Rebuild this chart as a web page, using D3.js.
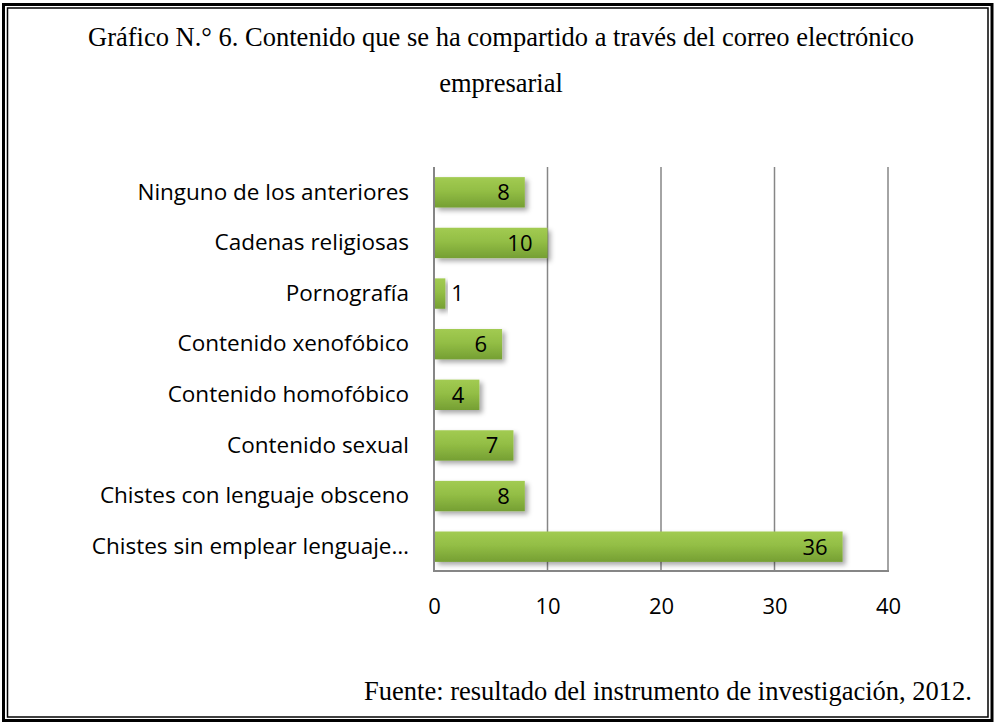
<!DOCTYPE html>
<html>
<head>
<meta charset="utf-8">
<script src="https://cdn.jsdelivr.net/npm/d3@7"></script>
<style>
  body { margin: 0; background: #fff; }
  svg { display: block; }
</style>
</head>
<body>
<div id="chart"></div>
<script>
// data, bottom bar last
var categories = ['Ninguno de los anteriores', 'Cadenas religiosas', 'Pornografía',
    'Contenido xenofóbico', 'Contenido homofóbico', 'Contenido sexual',
    'Chistes con lenguaje obsceno', 'Chistes sin emplear lenguaje…'];
var values = [8, 10, 1, 6, 4, 7, 8, 36];
var ticks = [0, 10, 20, 30, 40];
var titleLines = ['Gráfico N.° 6. Contenido que se ha compartido a través del correo electrónico', 'empresarial'];
var source = 'Fuente: resultado del instrumento de investigación, 2012.';

var W = 996, H = 724;
var svg = d3.select('#chart').append('svg')
    .attr('width', W).attr('height', H);

// double frame
svg.append('rect').attr('x', 3.5).attr('y', 4.5).attr('width', W - 7.5).attr('height', H - 8)
    .attr('fill', 'none').attr('stroke', '#000').attr('stroke-width', 3);
svg.append('rect').attr('x', 7.5).attr('y', 8).attr('width', W - 15.5).attr('height', H - 15)
    .attr('fill', 'none').attr('stroke', '#000').attr('stroke-width', 1.5);

var defs = svg.append('defs');
var grad = defs.append('linearGradient').attr('id', 'barGrad')
    .attr('x1', 0).attr('y1', 0).attr('x2', 0).attr('y2', 1);
grad.append('stop').attr('offset', '0%').attr('stop-color', '#a2cb52');
grad.append('stop').attr('offset', '45%').attr('stop-color', '#93be45');
grad.append('stop').attr('offset', '100%').attr('stop-color', '#759f33');
var shadow = defs.append('filter').attr('id', 'shadow')
    .attr('x', '-10%').attr('y', '-20%').attr('width', '130%').attr('height', '160%');
shadow.append('feDropShadow').attr('dx', 3).attr('dy', 3).attr('stdDeviation', 2.5)
    .attr('flood-color', '#000').attr('flood-opacity', 0.35);

var serif = '"Liberation Serif", "Times New Roman", serif';
var calibri = '"Open Sans", Lato, sans-serif';

// titles
svg.selectAll('.title').data(titleLines).enter().append('text')
    .attr('class', 'title')
    .attr('x', 501).attr('y', function(d, i) { return 46 + i * 46; })
    .attr('text-anchor', 'middle')
    .style('font-family', serif)
    .style('font-size', '26.5px')
    .text(function(d) { return d; });

svg.append('text')
    .attr('x', 972).attr('y', 700)
    .attr('text-anchor', 'end')
    .style('font-family', serif)
    .style('font-size', '26.5px')
    .text(source);

var x = d3.scaleLinear().domain([0, 40]).range([434, 888]);
var y = d3.scaleBand().domain(categories).range([167, 572]).paddingInner(0.4).paddingOuter(0.2);

var plot = svg.append('g');

// gridlines
plot.selectAll('.grid').data(ticks.slice(1)).enter().append('line')
    .attr('x1', function(d) { return x(d); }).attr('x2', function(d) { return x(d); })
    .attr('y1', 167).attr('y2', 572)
    .attr('stroke', '#868686').attr('stroke-width', 1.5);

// axis box (left + bottom)
plot.append('line').attr('x1', x(0)).attr('x2', x(0)).attr('y1', 167).attr('y2', 572)
    .attr('stroke', '#868686').attr('stroke-width', 2);
plot.append('line').attr('x1', x(0) - 1).attr('x2', x(40) + 1).attr('y1', 571).attr('y2', 571)
    .attr('stroke', '#868686').attr('stroke-width', 2);

// bars
plot.selectAll('.bar').data(values).enter().append('rect')
    .attr('class', 'bar')
    .attr('x', x(0) + 1)
    .attr('y', function(d, i) { return y(categories[i]); })
    .attr('width', function(d) { return x(d) - x(0) - 1; })
    .attr('height', y.bandwidth())
    .attr('fill', 'url(#barGrad)')
    .attr('filter', 'url(#shadow)');

// value labels
plot.selectAll('.val').data(values).enter().append('text')
    .attr('class', 'val')
    .attr('x', function(d) { return d < 3 ? x(d) + 6 : x(d) - 15; })
    .attr('y', function(d, i) { return y(categories[i]) + y.bandwidth() / 2; })
    .attr('dy', '0.36em')
    .attr('text-anchor', function(d) { return d < 3 ? 'start' : 'end'; })
    .style('font-family', calibri)
    .style('font-size', '22px')
    .text(function(d) { return d; });

// category labels
var yAxis = d3.axisLeft(y).tickSize(0).tickPadding(25);
var ya = svg.append('g').attr('transform', 'translate(' + x(0) + ',0)').call(yAxis);
ya.select('.domain').remove();
ya.selectAll('text')
    .style('font-family', calibri)
    .style('font-size', '22.5px')
    .attr('fill', '#000');

// x ticks
var xAxis = d3.axisBottom(x).tickValues(ticks).tickSize(0).tickPadding(27);
var xa = svg.append('g').attr('transform', 'translate(0,571)').call(xAxis);
xa.select('.domain').remove();
xa.selectAll('text')
    .style('font-family', calibri)
    .style('font-size', '22px')
    .attr('fill', '#000');
</script>
</body>
</html>
